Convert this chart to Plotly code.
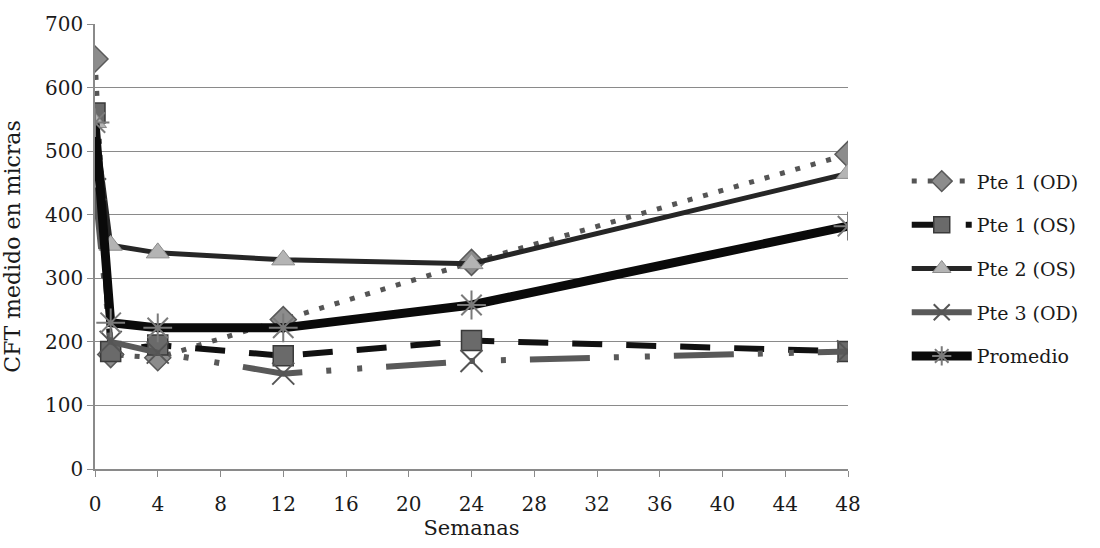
import plotly.graph_objects as go

# Weeks of follow-up
semanas = [0, 1, 4, 12, 24, 48]

# CFT (microns) per patient/eye
pte1_od = [645, 180, 175, 235, 325, 495]
pte1_os = [560, 185, 195, 178, 202, 185]
pte2_os = [545, 352, 340, 329, 323, 465]
pte3_od = [440, 200, 183, 150, 170, 185]
promedio = [545, 230, 222, 222, 258, 382]

x_ticks = list(range(0, 49, 4))
y_ticks = list(range(0, 701, 100))

serif = "DejaVu Serif"

fig = go.Figure()

fig.add_trace(go.Scatter(
    x=semanas, y=pte1_od, name="Pte 1 (OD)", legendgroup="a",
    mode="lines+markers",
    line=dict(color="#555555", width=5, dash="5px,11px"),
    marker=dict(symbol="diamond", size=20, color="#8c8c8c",
                line=dict(color="#5a5a5a", width=1.5)),
))
fig.add_trace(go.Scatter(
    x=semanas, y=pte1_os, name="Pte 1 (OS)", legendgroup="b",
    mode="lines+markers",
    line=dict(color="#111111", width=6, dash="30px,24px"),
    marker=dict(symbol="square", size=20, color="#6a6a6a",
                line=dict(color="#3a3a3a", width=1.5)),
))
fig.add_trace(go.Scatter(
    x=semanas, y=pte2_os, name="Pte 2 (OS)", legendgroup="c",
    mode="lines+markers",
    line=dict(color="#262626", width=5),
    marker=dict(symbol="triangle-up", size=20, color="#b4b4b4",
                line=dict(color="#8a8a8a", width=1)),
))
fig.add_trace(go.Scatter(
    x=semanas, y=pte3_od, name="Pte 3 (OD)", legendgroup="d",
    mode="lines+markers",
    line=dict(color="#595959", width=6, dash="60px,24px,5px,26px,5px,24px"),
    marker=dict(symbol="x-thin-open", size=22, color="#555555",
                line=dict(color="#555555", width=2)),
))
fig.add_trace(go.Scatter(
    x=semanas, y=promedio, name="Promedio", legendgroup="e",
    mode="lines+markers",
    line=dict(color="#0a0a0a", width=9),
    marker=dict(symbol="asterisk-open", size=24, color="#7a7a7a",
                line=dict(color="#7a7a7a", width=2)),
))

fig.update_layout(
    width=1100, height=548,
    margin=dict(l=93, r=252, t=16, b=79),
    plot_bgcolor="white", paper_bgcolor="white",
    font=dict(family=serif, size=20, color="#1a1a1a"),
    legend=dict(
        x=1.078, xanchor="left", y=0.45, yanchor="middle",
        font=dict(family=serif, size=19, color="#1a1a1a"),
        tracegroupgap=16, itemwidth=60,
        bgcolor="rgba(0,0,0,0)",
    ),
)

fig.update_xaxes(
    range=[0, 48], tickvals=x_ticks, ticktext=[str(v) for v in x_ticks],
    showgrid=False, zeroline=False,
    showline=True, linecolor="#8a8a8a", linewidth=1.5,
    ticks="outside", ticklen=6, tickcolor="#8a8a8a",
    tickfont=dict(family=serif, size=20), ticklabelstandoff=10,
    title=dict(text="Semanas", font=dict(family=serif, size=21), standoff=6),
)
fig.update_yaxes(
    range=[0, 700], tickvals=y_ticks,
    showgrid=True, gridcolor="#8a8a8a", gridwidth=1,
    zeroline=False,
    showline=True, linecolor="#8a8a8a", linewidth=1.5,
    ticks="outside", ticklen=6, tickcolor="#8a8a8a",
    tickfont=dict(family=serif, size=20),
    title=dict(text="CFT medido en micras", font=dict(family=serif, size=22), standoff=18),
)

fig.write_html("out.html")
